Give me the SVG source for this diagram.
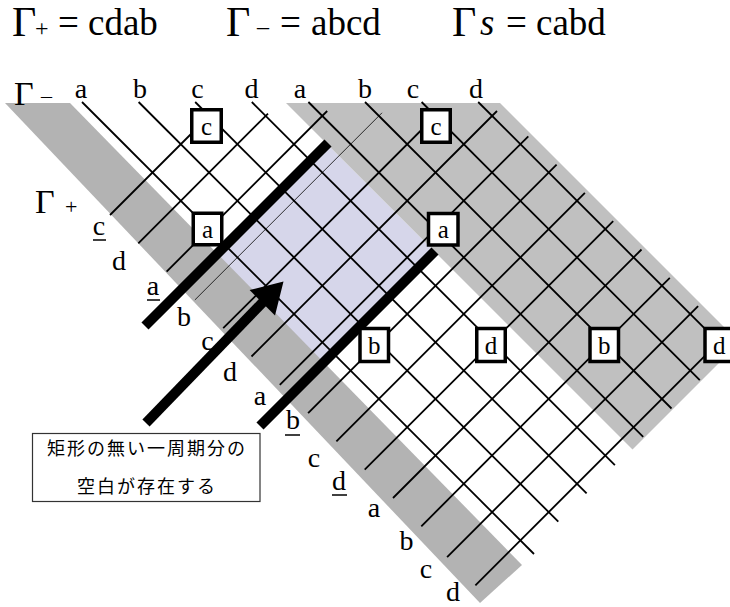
<svg xmlns="http://www.w3.org/2000/svg" width="730" height="607" viewBox="0 0 730 607">
<style>
text{font-family:"Liberation Serif","Times New Roman",serif;fill:#000}
.h{font-size:37px}
.G{font-size:42px}
.lab{font-size:28px;text-anchor:middle}
.bl{font-size:25px;text-anchor:middle}
.g line{stroke:#000;stroke-width:1.8;fill:none}
.box{fill:#fff;stroke:#000;stroke-width:3.5}
.thick{stroke:#000;stroke-width:10;fill:none}
.ul{stroke:#000;stroke-width:1.5}
text.jp{font-family:"Noto Sans CJK JP","Noto Sans CJK SC",sans-serif;font-size:18px;letter-spacing:2px;text-anchor:middle;fill:#000}
</style>
<rect width="730" height="607" fill="#fff"/>

<g id="header">
<text class="G" x="12" y="36">Γ</text><text x="35" y="36" font-size="24">+</text>
<text class="h" x="58" y="35">=</text><text class="h" x="88" y="35">cdab</text>
<text class="G" x="226" y="36">Γ</text><text x="257" y="34" font-size="24">–</text>
<text class="h" x="280" y="35">=</text><text class="h" x="311" y="35">abcd</text>
<text class="G" x="452" y="36">Γ</text><text class="h" x="480" y="35" font-style="italic">s</text>
<text class="h" x="506" y="35">=</text><text class="h" x="536" y="35">cabd</text>
</g>

<g id="regions">
<polygon points="327,144 434.5,251.5 320.5,365.5 213,258" fill="#D6D6EA"/>
<polygon points="5,103 70,103 522,565 480,603" fill="#B3B3B3"/>
<polygon points="286,103 500,103 739.5,342.5 632.5,449.5" fill="#C0C0C0"/>
</g>

<g id="connectors" class="g">
<line x1="82" y1="102" x2="534" y2="554"/>
<line x1="138.6" y1="102" x2="558.3" y2="521.7"/>
<line x1="195.2" y1="102" x2="586.6" y2="493.4"/>
<line x1="251.8" y1="102" x2="614.9" y2="465.1"/>
<line x1="308.4" y1="102" x2="643.2" y2="436.8"/>
<line x1="365" y1="102" x2="671.5" y2="408.5"/>
<line x1="421.6" y1="102" x2="699.8" y2="380.2"/>
<line x1="478.2" y1="102" x2="728.1" y2="351.9"/>

<line x1="110" y1="215" x2="214" y2="111"/>
<line x1="138.3" y1="243.3" x2="268" y2="113.6"/>
<line x1="166.6" y1="271.6" x2="327.2" y2="111"/>
<line x1="194.9" y1="299.9" x2="382" y2="112.8" style="stroke-width:0.8"/>
<line x1="223.2" y1="328.2" x2="440.4" y2="111"/>
<line x1="251.5" y1="356.5" x2="497" y2="111"/>
<line x1="279.8" y1="384.8" x2="528.3" y2="136.3"/>
<line x1="308.1" y1="413.1" x2="556.6" y2="164.6"/>
<line x1="336.4" y1="441.4" x2="584.9" y2="192.9"/>
<line x1="364.7" y1="469.7" x2="613.2" y2="221.2"/>
<line x1="393" y1="498" x2="641.5" y2="249.5"/>
<line x1="421.3" y1="526.3" x2="669.8" y2="277.8"/>
<line x1="447.1" y1="557.1" x2="698.1" y2="306.1"/>
<line x1="475.4" y1="585.4" x2="726.4" y2="334.4"/>
</g>

<g id="bars">
<line class="thick" x1="145" y1="326" x2="328" y2="143"/>
<line class="thick" x1="260" y1="426" x2="435" y2="251"/>
</g>

<g id="arrow">
<line class="thick" x1="146" y1="423" x2="264" y2="301"/>
<polygon points="283.5,281.5 249.6,290 275,315.4" fill="#000"/>
</g>

<g id="box-c1"><rect class="box" x="191.75" y="109.75" width="29.5" height="32.5"/><text class="bl" x="206.5" y="135">c</text></g>
<g id="box-c2"><rect class="box" x="421.75" y="109.75" width="28.5" height="32.5"/><text class="bl" x="436" y="135">c</text></g>
<g id="box-a1"><rect class="box" x="193.25" y="213.25" width="28.5" height="31.5"/><text class="bl" x="207.5" y="238">a</text></g>
<g id="box-a2"><rect class="box" x="428.5" y="213.5" width="29.5" height="31.5"/><text class="bl" x="443.3" y="238">a</text></g>
<g id="box-b1"><rect class="box" x="360" y="328.5" width="28.5" height="33"/><text class="bl" x="374.2" y="354">b</text></g>
<g id="box-d1"><rect class="box" x="476.75" y="328.5" width="28.5" height="33"/><text class="bl" x="491" y="354">d</text></g>
<g id="box-b2"><rect class="box" x="590" y="328.5" width="28.5" height="33"/><text class="bl" x="604.2" y="354">b</text></g>
<g id="box-d2"><rect class="box" x="705" y="328.5" width="28.5" height="33"/><text class="bl" x="719.2" y="354">d</text></g>

<g id="top-labels">
<text x="14" y="105" font-size="34">Γ</text><text x="41" y="103" font-size="22">–</text>
<text class="lab" x="81" y="98">a</text>
<text class="lab" x="140" y="98">b</text>
<text class="lab" x="197.5" y="98">c</text>
<text class="lab" x="251.5" y="98">d</text>
<text class="lab" x="300" y="98">a</text>
<text class="lab" x="365" y="98">b</text>
<text class="lab" x="413" y="98">c</text>
<text class="lab" x="476" y="98">d</text>
</g>

<g id="left-labels">
<text x="35" y="213" font-size="34">Γ</text><text x="65" y="214" font-size="22">+</text>
<text class="lab" x="99" y="235">c</text><line class="ul" x1="93" y1="240" x2="106" y2="240"/>
<text class="lab" x="119" y="270">d</text>
<text class="lab" x="153" y="295">a</text><line class="ul" x1="147" y1="300" x2="160" y2="300"/>
<text class="lab" x="184" y="326">b</text>
<text class="lab" x="207.5" y="350">c</text>
<text class="lab" x="230" y="381">d</text>
<text class="lab" x="260" y="405">a</text>
<text class="lab" x="293" y="429">b</text><line class="ul" x1="285" y1="435" x2="300" y2="435"/>
<text class="lab" x="314" y="467">c</text>
<text class="lab" x="339" y="490">d</text><line class="ul" x1="332" y1="495" x2="347" y2="495"/>
<text class="lab" x="374" y="517">a</text>
<text class="lab" x="406.5" y="550">b</text>
<text class="lab" x="426" y="578">c</text>
<text class="lab" x="453" y="601">d</text>
</g>

<g id="callout">
<rect x="32.5" y="433.5" width="227.5" height="68" fill="#fff" stroke="#333" stroke-width="1.2"/>
<text class="jp" x="147" y="455">矩形の無い一周期分の</text>
<text class="jp" x="147" y="493">空白が存在する</text>
</g>
</svg>
